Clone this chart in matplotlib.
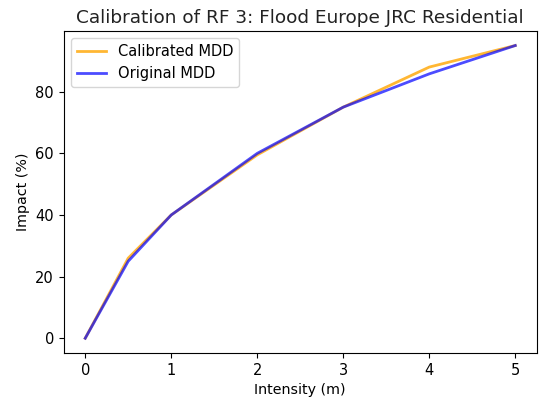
import matplotlib
matplotlib.use('Agg')
import matplotlib.pyplot as plt

intensity = [0, 0.5, 1, 2, 3, 4, 5]
calibrated_mdd = [0, 26, 40, 59.5, 75, 88, 95]
original_mdd = [0, 25, 40, 60, 75, 85.8, 95]

fig = plt.figure(figsize=(5.4, 4.01), dpi=100)
ax = fig.add_axes([0.118, 0.12, 0.876, 0.803])
ax.plot(intensity, calibrated_mdd, color='orange', alpha=0.8, lw=2, label='Calibrated MDD')
ax.plot(intensity, original_mdd, color='blue', alpha=0.7, lw=2, label='Original MDD')
ax.set_title('Calibration of RF 3: Flood Europe JRC Residential', fontsize=13.3, color='#222222')
ax.set_xlabel('Intensity (m)', fontsize=10.3)
ax.set_ylabel('Impact (%)', fontsize=10.3)
ax.tick_params(labelsize=10.5)
ax.legend(loc='upper left', fontsize=10.5)
fig.savefig('out.png', dpi=100)
